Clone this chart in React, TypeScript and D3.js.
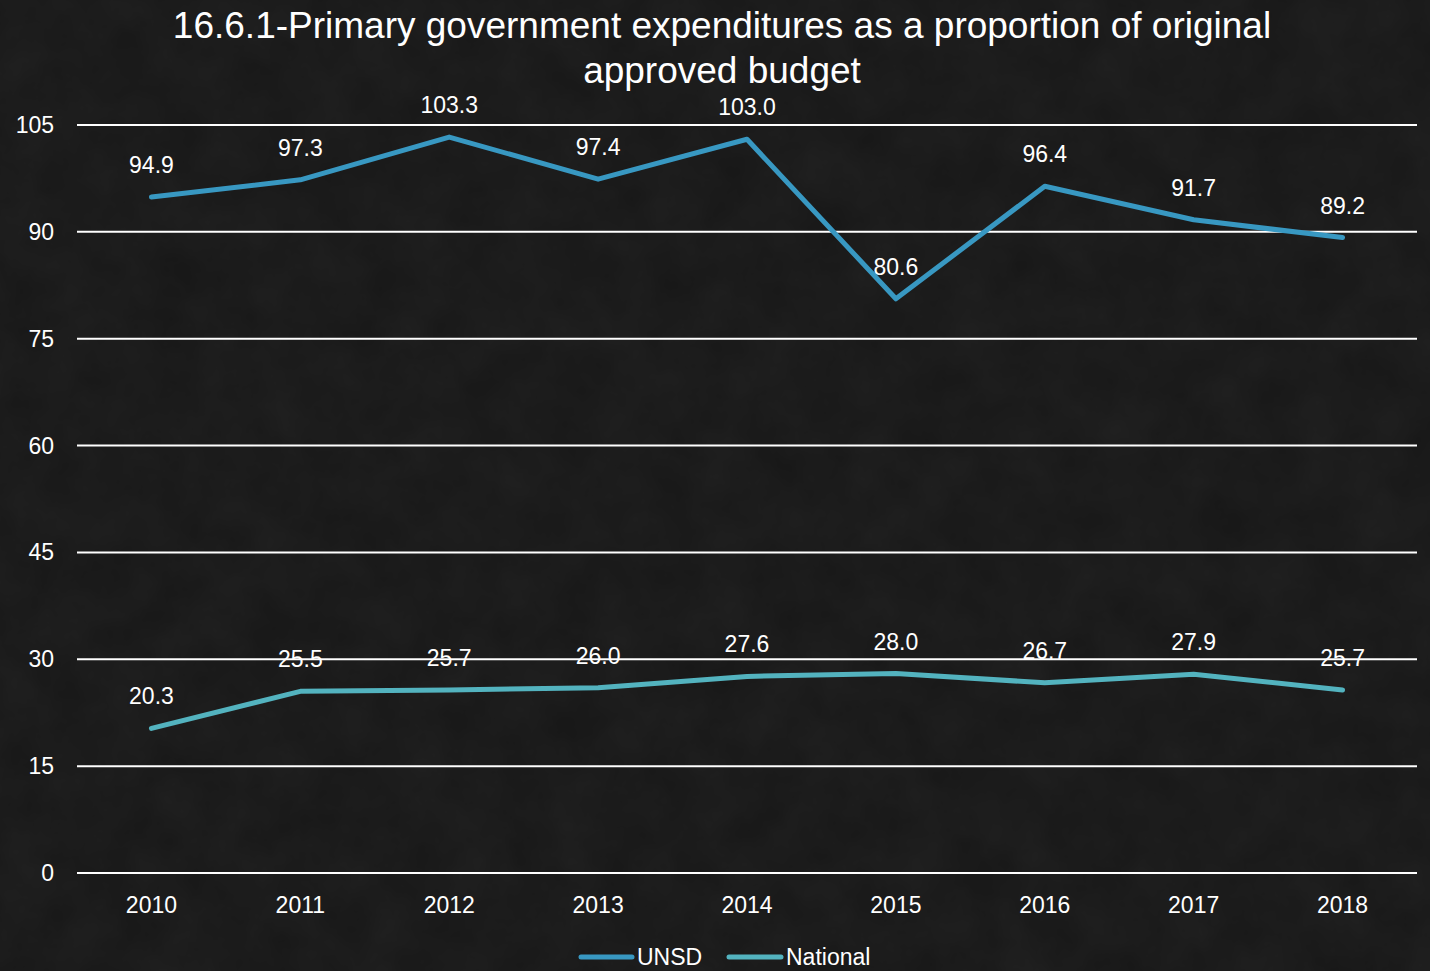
import { scaleBand, scaleLinear, line as d3line } from "d3";

const years = ["2010", "2011", "2012", "2013", "2014", "2015", "2016", "2017", "2018"];
const unsd = [94.9, 97.3, 103.3, 97.4, 103.0, 80.6, 96.4, 91.7, 89.2];
const national = [20.3, 25.5, 25.7, 26.0, 27.6, 28.0, 26.7, 27.9, 25.7];
const yTicks = [0, 15, 30, 45, 60, 75, 90, 105];

const W = 1430;
const H = 971;
const FONT = "Liberation Sans, Arial, sans-serif";

export default function App() {
  let x = scaleBand<string>().domain(years).range([77, 1417]);
  let y = scaleLinear().domain([0, 105]).range([873, 125]);
  let cx = (yr: string) => (x(yr) ?? 0) + x.bandwidth() / 2;

  let line = d3line<number>()
    .x((_, i) => cx(years[i]))
    .y((d) => y(d));

  const series = [
    { name: "UNSD", values: unsd, color: "#3898c2" },
    { name: "National", values: national, color: "#53b3bf" },
  ];

  return (
    <svg
      width={W}
      height={H}
      style={{ position: "absolute", left: 0, top: 0, display: "block" }}
      fontFamily={FONT}
    >
      <defs>
        <filter id="grain" x="0" y="0" width="100%" height="100%">
          <feTurbulence type="fractalNoise" baseFrequency="0.02" numOctaves="4" seed="3" />
          <feColorMatrix type="matrix" values="0 0 0 0 1  0 0 0 0 1  0 0 0 0 1  0 0 0 0.04 0" />
        </filter>
      </defs>
      <rect width={W} height={H} fill="#171717" />
      <rect width={W} height={H} filter="url(#grain)" />

      {/* title */}
      <text x={722} y={38} textAnchor="middle" fill="#fff" fontSize={37}>
        16.6.1-Primary government expenditures as a proportion of original
      </text>
      <text x={722} y={83} textAnchor="middle" fill="#fff" fontSize={37}>
        approved budget
      </text>

      {/* grid + y axis */}
      {yTicks.map((t) => (
        <g key={t}>
          <line x1={77} x2={1417} y1={y(t)} y2={y(t)} stroke="#fff" strokeWidth={2} />
          <text x={54} y={y(t) + 8} textAnchor="end" fill="#fff" fontSize={23}>
            {t}
          </text>
        </g>
      ))}

      {/* x axis labels */}
      {years.map((yr) => (
        <text key={yr} x={cx(yr)} y={913} textAnchor="middle" fill="#fff" fontSize={23}>
          {yr}
        </text>
      ))}

      {/* lines */}
      {series.map((s) => (
        <path
          key={s.name}
          d={line(s.values) ?? undefined}
          fill="none"
          stroke={s.color}
          strokeWidth={5}
          strokeLinecap="round"
          strokeLinejoin="round"
        />
      ))}

      {/* data labels */}
      {series.map((s) =>
        s.values.map((v, i) => (
          <text
            key={s.name + i}
            x={cx(years[i])}
            y={y(v) - 24}
            textAnchor="middle"
            fill="#fff"
            fontSize={23}
          >
            {v.toFixed(1)}
          </text>
        ))
      )}

      {/* legend */}
      <line x1={581} x2={632} y1={957} y2={957} stroke={series[0].color} strokeWidth={5} strokeLinecap="round" />
      <text x={637} y={965} fill="#fff" fontSize={23}>UNSD</text>
      <line x1={729} x2={781} y1={957} y2={957} stroke={series[1].color} strokeWidth={5} strokeLinecap="round" />
      <text x={786} y={965} fill="#fff" fontSize={23}>National</text>
    </svg>
  );
}
